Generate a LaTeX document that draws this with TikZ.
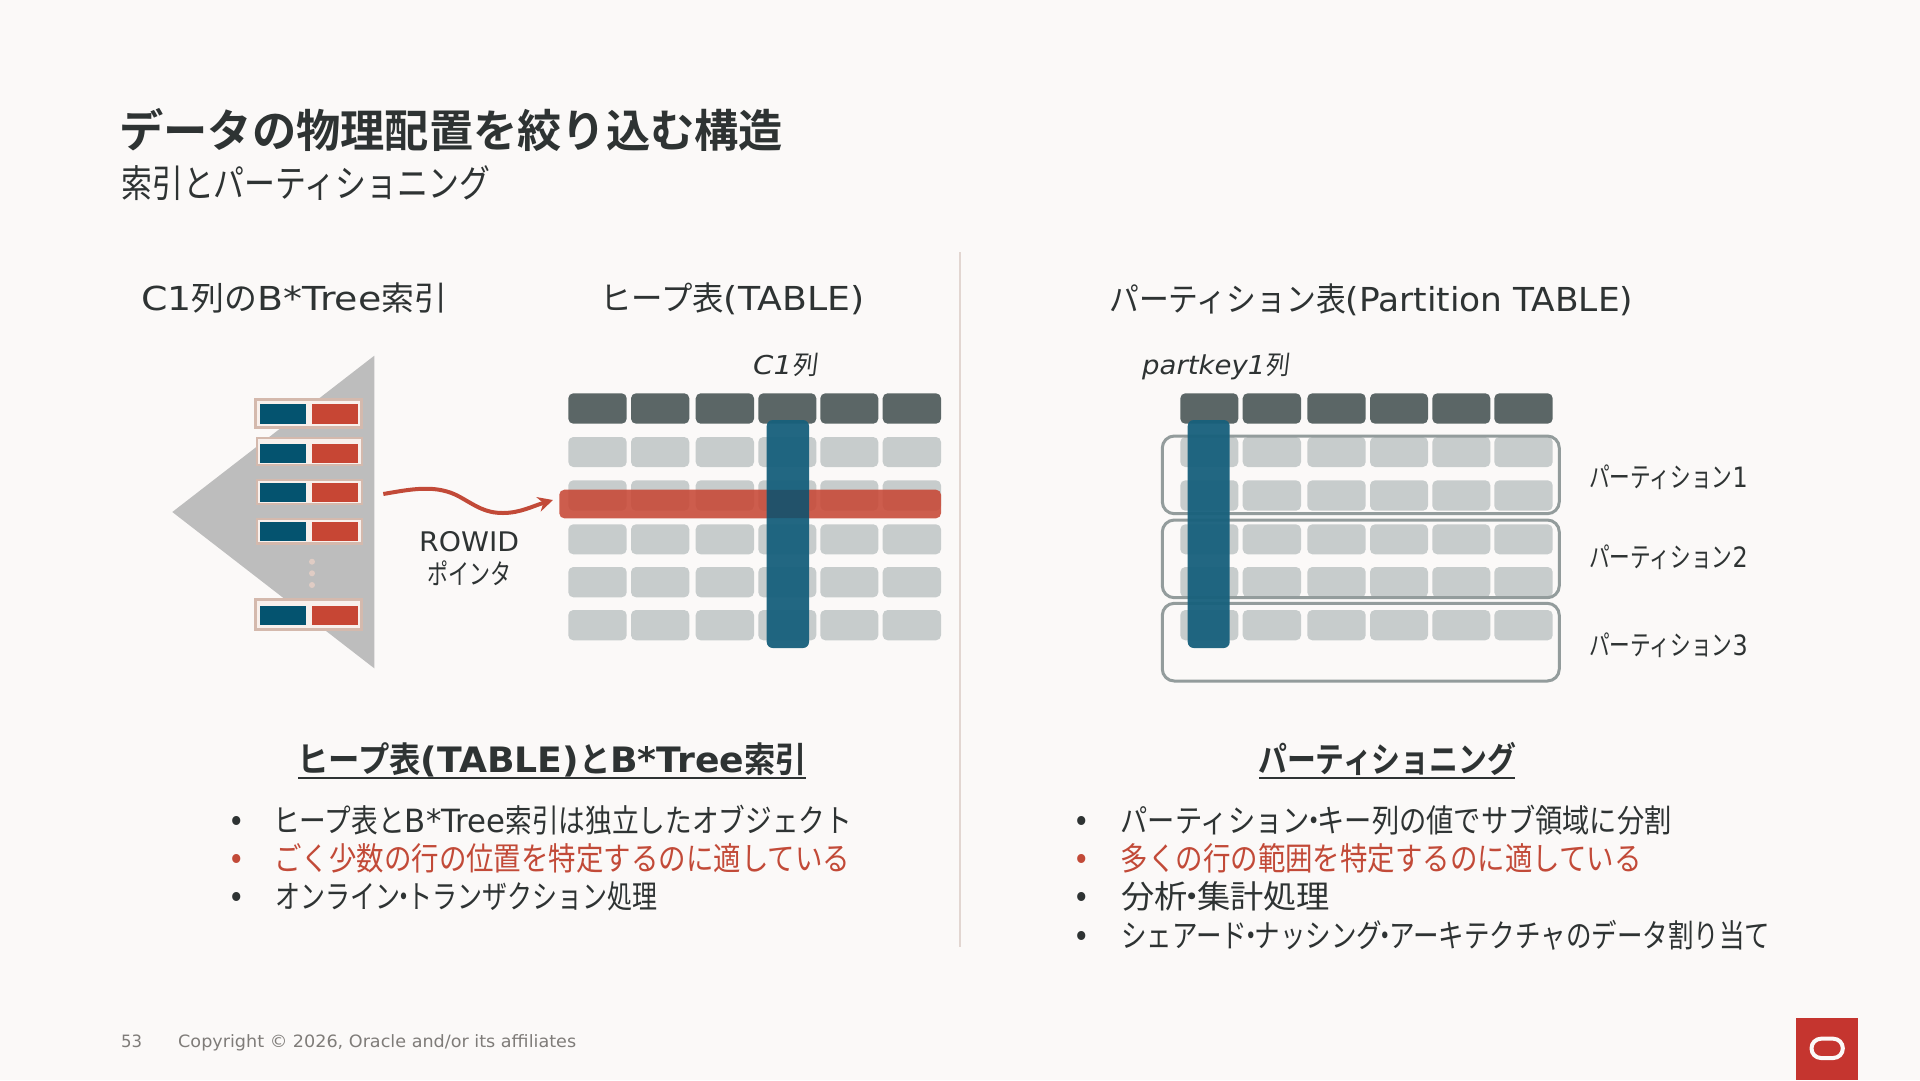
\documentclass[tikz,border=0pt]{standalone}
\usepackage{fontspec}
\usepackage{graphicx}
\usetikzlibrary{arrows.meta}
\setmainfont[FakeStretch=0.9]{DejaVu Sans}
\newfontfamily\jp[FakeStretch=0.78,BoldFont={Noto Sans CJK JP Bold},ItalicFont={Noto Sans CJK JP},ItalicFeatures={FakeSlant=0.1}]{Noto Sans CJK JP}
\definecolor{bgc}{HTML}{FBF9F8}
\definecolor{ink}{HTML}{2E3333}
\definecolor{orared}{HTML}{C24A38}
\definecolor{hdr}{HTML}{5B6666}
\definecolor{cellc}{HTML}{C7CCCC}
\definecolor{bluec}{HTML}{17607C}
\definecolor{redbar}{HTML}{C74634}
\definecolor{cross}{HTML}{22526A}
\definecolor{tri}{HTML}{BDBDBD}
\definecolor{idxb}{HTML}{D4B9AD}
\definecolor{idxf}{HTML}{F8F0EC}
\definecolor{idxblue}{HTML}{04536F}
\definecolor{idxred}{HTML}{C74634}
\definecolor{rule}{HTML}{E2D6D1}
\definecolor{foot}{HTML}{7F7C79}
\definecolor{outl}{HTML}{939C9C}
\definecolor{logored}{HTML}{C5352F}
\newsavebox\tbx
\newcommand{\fit}[2]{\sbox\tbx{#2}\pgfmathsetmacro\rr{#1/\wd\tbx}\scalebox{\rr}[1]{\usebox\tbx}}
\newcommand{\fs}[1]{\fontsize{#1}{#1}\selectfont}
\newcommand{\nk}{\kern-.28em・\kern-.28em}
\tikzset{
  txt/.style={anchor=base west,inner sep=0pt,text=ink},
  redtxt/.style={txt,text=orared},
  bul/.style={anchor=center,inner sep=0pt,fill=none},
  hcell/.style={fill=hdr,rounded corners=5pt},
  bcell/.style={fill=cellc,rounded corners=5pt},
  colbar/.style={fill=bluec,fill opacity=.95,rounded corners=6pt},
  rowbar/.style={fill=redbar,fill opacity=.87,rounded corners=5pt},
  part/.style={draw=outl,line width=3pt,rounded corners=12pt},
  idxthick/.style={draw=idxb,fill=idxf,line width=3pt},
  idxthin/.style={draw=idxb,fill=idxf,line width=2.5pt}
}
\newcommand{\bdot}[3]{\node[bul,text=#3,font=\fs{31},yshift=-2.5pt] (#1) at #2 {•};}
\begin{document}
\begin{tikzpicture}[x=1pt,y=-1pt]
\useasboundingbox (0,0) rectangle (1920,1080);
\fill[bgc] (0,0) rectangle (1920,1080);

% titles
\node[txt,font=\fs{45}\bfseries] (title) at (119,147) {\fit{664}{\jp データの物理配置を絞り込む構造}};
\node[txt,font=\fs{38}] (sub) at (121,197) {\fit{369}{\jp 索引とパーティショニング}};
\node[txt,font=\fs{33}] (h1) at (141,310) {\fit{306}{C1{\jp 列の}B*Tree{\jp 索引}}};
\node[txt,font=\fs{33}] (h2) at (600,310) {\fit{264}{{\jp ヒープ表}(TABLE)}};
\node[txt,font=\fs{33}] (h3) at (1109,311) {\fit{524}{{\jp パーティション表}(Partition TABLE)}};
\node[txt,font=\fs{26}\itshape] (c1) at (753,374) {\fit{64}{C1{\jp 列}}};
\node[txt,font=\fs{26}\itshape] (pk) at (1142,374) {\fit{147}{partkey1{\jp 列}}};

% index triangle
\fill[tri] (172.3,512) -- (374.3,355.7) -- (374.3,668.3) -- cycle;
\draw[idxthick] (255,399.2) rectangle (361.7,427.5);
\draw[idxthin] (257.2,437.9) rectangle (362,464.8);
\draw[idxthin] (257.2,479.9) rectangle (362,504.1);
\draw[idxthin] (257.2,519.2) rectangle (362,543.5);
\draw[idxthick] (255,599.8) rectangle (361.7,629.5);
\foreach \a/\b in {404.3/423.7,443.7/463,483.3/502.3,522.3/541.3,605.7/625}{
  \fill[idxblue] (260.3,\a) rectangle (306,\b);
  \fill[idxred] (312,\a) rectangle (357.7,\b);
}
\foreach \a in {561.7,573.3,585}{\fill[idxb!70!bgc] (312,\a) circle (3pt);}

% pointer
\coordinate (ptrfrom) at (383.3,494);
\coordinate (ptrto) at (553,500);
\draw[orared,line width=4pt,-{Stealth[length=15pt,width=15pt]}] (ptrfrom) .. controls (412,489) and (437,484) .. (460,497) .. controls (476,506) and (485,513) .. (503,513) .. controls (520,513) and (533,506) .. (ptrto);
\node[txt,font=\fs{27}] (rowid) at (419,551.5) {\fit{100}{ROWID}};
\node[txt,font=\fs{28}] (ptr) at (427,584) {\fit{84}{\jp ポインタ}};

% heap table
\foreach \a/\b in {568.3/626.7,631/689.3,695.7/754,758.3/816.3,820.3/878.3,882.7/941}{
  \fill[hcell] (\a,393.3) rectangle (\b,423.7);
  \foreach \c/\d in {437/467,480.3/510.7,524.3/554.3,567/597.3,610/640.3}{
    \fill[bcell] (\a,\c) rectangle (\b,\d);
  }
}
\fill[rowbar] (559.3,489.7) rectangle (941,518.3);
\fill[colbar] (766.7,420) rectangle (809,648);
\fill[cross] (766.7,489.7) rectangle (809,518.3);

% divider
\draw[rule,line width=1.5pt] (960,252) -- (960,947);

% partition table
\foreach \a/\b in {1180.3/1238.3,1242.7/1301,1307.3/1365.7,1370/1428,1432.3/1490.3,1494.3/1552.7}{
  \fill[hcell] (\a,393.3) rectangle (\b,423.7);
  \foreach \c/\d in {437/467,480.3/510.7,524.3/554.3,567/597.3,610/640.3}{
    \fill[bcell] (\a,\c) rectangle (\b,\d);
  }
}
\draw[part] (1162.3,436) rectangle (1559.3,513.7);
\draw[part] (1162.3,520) rectangle (1559.3,597.7);
\draw[part] (1162.3,603.3) rectangle (1559.3,681);
\fill[colbar] (1187.7,420) rectangle (1229.7,648);
\node[txt,font=\fs{28}] (p1) at (1589,487) {\fit{158.5}{{\jp パーティション}1}};
\node[txt,font=\fs{28}] (p2) at (1589,567) {\fit{158.5}{{\jp パーティション}2}};
\node[txt,font=\fs{28}] (p3) at (1589,655) {\fit{158.5}{{\jp パーティション}3}};

% left text
\node[txt,font=\fs{35}\bfseries] (lh) at (297,772) {\fit{510}{{\jp ヒープ表}(TABLE){\jp と}B*Tree{\jp 索引}}};
\draw[ink,line width=2.5pt] (298,778) -- (806,778);
\bdot{lb1}{(237,821.7)}{ink}
\bdot{lb2}{(237,860)}{orared}
\bdot{lb3}{(237,898)}{ink}
\node[txt,font=\fs{32}] (l1) at (273,832) {\fit{579}{{\jp ヒープ表と}B*Tree{\jp 索引は独立したオブジェクト}}};
\node[redtxt,font=\fs{32}] (l2) at (274,870) {\fit{576}{\jp ごく少数の行の位置を特定するのに適している}};
\node[txt,font=\fs{32}] (l3) at (275,908) {\fit{382}{\jp オンライン\nk トランザクション処理}};

% right text
\node[txt,font=\fs{35}\bfseries] (rh) at (1258,772) {\fit{258}{\jp パーティショニング}};
\draw[ink,line width=2.5pt] (1259,778) -- (1515.4,778);
\bdot{rb1}{(1082,821.7)}{ink}
\bdot{rb2}{(1082,860)}{orared}
\bdot{rb3}{(1082,898)}{ink}
\bdot{rb4}{(1082,936.7)}{ink}
\node[txt,font=\fs{32}] (r1) at (1120.5,832) {\fit{551}{\jp パーティション\nk キー列の値でサブ領域に分割}};
\node[redtxt,font=\fs{32}] (r2) at (1120.5,870) {\fit{521}{\jp 多くの行の範囲を特定するのに適している}};
\node[txt,font=\fs{32}] (r3) at (1121,908) {\fit{209}{\jp 分析\nk 集計処理}};
\node[txt,font=\fs{32}] (r4) at (1121,947) {\fit{649}{\jp シェアード\nk ナッシング\nk アーキテクチャのデータ割り当て}};

% footer
\node[txt,text=foot,font=\fs{17}] (pg) at (121,1047.5) {\fit{21}{53}};
\node[txt,text=foot,font=\fs{17}] (copy) at (178,1047.5) {\fit{398}{Copyright © 2026, Oracle and/or its affiliates}};

% logo
\fill[logored] (1796,1018) rectangle (1858.3,1080);
\draw[bgc,line width=4pt,rounded corners=9.5pt] (1811.5,1038.7) rectangle (1842.8,1058);
\end{tikzpicture}
\end{document}
